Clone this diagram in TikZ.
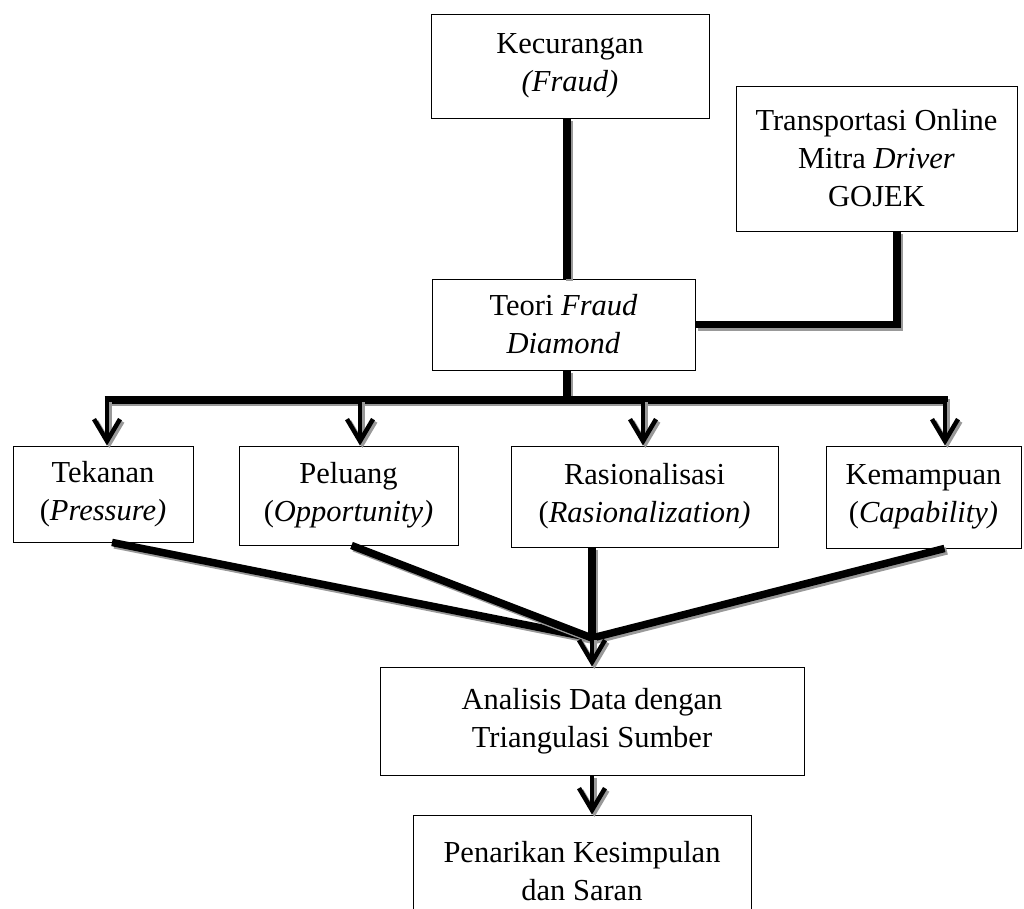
\documentclass[tikz,border=0pt]{standalone}
\usepackage{fontspec}
\setmainfont{Liberation Serif}
\usetikzlibrary{arrows.meta}
\newcommand\shline[2]{%
  \begin{scope}[transform canvas={shift={(2.4pt,-2.4pt)}}]\draw[#1,draw=black!40] #2;\end{scope}%
  \draw[#1] #2;}
\begin{document}
\begin{tikzpicture}[x=1pt,y=-1pt,
  box/.style={draw, line width=0.9pt, align=center, inner sep=0pt, font=\fontsize{30.5}{38}\selectfont},
  ln/.style={line width=7.5pt, line join=miter},
  arr/.style={line width=4.5pt, -{Straight Barb[length=22pt,width=26pt]}}]
\useasboundingbox (0,0) rectangle (1024,908);
\clip (0,0) rectangle (1024,908);
% boxes
\node[box, minimum width=278pt, minimum height=104pt] (k) at (570,66) {Kecurangan\\\textit{(Fraud)}};
\node[box, minimum width=281pt, minimum height=145pt] (tr) at (876.5,158.5) {Transportasi Online\\Mitra \textit{Driver}\\GOJEK};
\node[box, minimum width=263pt, minimum height=91pt] (t) at (563.5,324.5) {Teori \textit{Fraud}\\\textit{Diamond}};
\node[box, minimum width=180pt, minimum height=96pt] (tek) at (103,494) {Tekanan\\(\textit{Pressure)}};
\node[box, minimum width=219pt, minimum height=99pt] (pel) at (348.5,495.5) {Peluang\\(\textit{Opportunity)}};
\node[box, minimum width=267pt, minimum height=101pt] (ras) at (644.5,496.5) {Rasionalisasi\\(\textit{Rasionalization)}};
\node[box, minimum width=195pt, minimum height=102pt] (kem) at (923.5,497) {Kemampuan\\(\textit{Capability)}};
\node[box, minimum width=424pt, minimum height=108pt] (an) at (592,721) {Analisis Data dengan\\Triangulasi Sumber};
\node[box, minimum width=338pt, minimum height=112pt] (pen) at (582,871) {Penarikan Kesimpulan\\dan Saran};
% coordinates
\coordinate (kx) at (567,0);
\coordinate (tx) at (897,0);
\coordinate (b1) at (107,400);
\coordinate (b2) at (360,400);
\coordinate (b3) at (643,400);
\coordinate (b4) at (945,400);
\coordinate (j) at (592,638);
% connectors
\shline{ln}{(k.south -| kx) -- (t.north -| kx)}
\shline{ln}{(tr.south -| tx) |- (t.east)}
\shline{ln}{(t.south -| kx) -- (kx |- b1)}
\shline{ln}{([xshift=-2.5pt]b1) -- ([xshift=2.5pt]b4)}
\shline{arr}{(b1) -- (tek.north -| b1)}
\shline{arr}{(b2) -- (pel.north -| b2)}
\shline{arr}{(b3) -- (ras.north -| b3)}
\shline{arr}{(b4) -- (kem.north -| b4)}
\shline{ln}{([xshift=9pt]tek.south) -- (j)}
\shline{ln}{([xshift=3pt]pel.south) -- (j)}
\shline{ln}{(ras.south -| j) -- (j)}
\shline{ln}{([xshift=21pt]kem.south) -- (j)}
\shline{arr}{(j) -- (an.north -| j)}
\shline{arr}{(an.south -| j) -- (pen.north -| j)}
\end{tikzpicture}
\end{document}
